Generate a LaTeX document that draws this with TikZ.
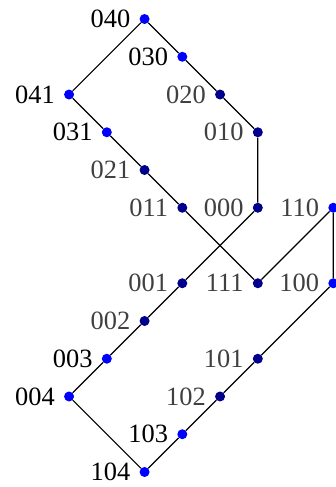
\documentclass[tikz,border=0pt]{standalone}
\usepackage{fontspec}
\setmainfont{Liberation Serif}
\begin{document}
\begin{tikzpicture}[x=1.131cm,y=1.131cm,
  every label/.style={font=\fontsize{22.5}{26}\selectfont,inner sep=2pt},
  label distance=5.5pt,
  pt/.style={circle,fill=blue,inner sep=0pt,minimum size=0.3cm},
  dimpt/.style={circle,fill=blue!55!black,inner sep=0pt,minimum size=0.3cm},
  dimlab/.style={label={[text=black!75]left:#1}}]
  \useasboundingbox (-1.83,0.504) rectangle (7.056,-12.398);
  % upper part
  \node[pt,label=left:040] (n040) at (2,0){};
  \node[pt,label=left:030] (n030) at (3,-1){};
  \node[dimpt,dimlab=020] (n020) at (4,-2){};
  \node[dimpt,dimlab=010] (n010) at (5,-3){};
  \node[pt,label=left:041] (n041) at (0,-2){};
  \node[pt,label=left:031] (n031) at (1,-3){};
  \node[dimpt,dimlab=021] (n021) at (2,-4){};
  \node[dimpt,dimlab=011] (n011) at (3,-5){};
  \node[dimpt,dimlab=000] (n000) at (5,-5){};
  \node[pt,dimlab=110] (n110) at (7,-5){};
  % lower part
  \node[dimpt,dimlab=001] (n001) at (3,-7){};
  \node[dimpt,dimlab=111] (n111) at (5,-7){};
  \node[pt,dimlab=100] (n100) at (7,-7){};
  \node[dimpt,dimlab=002] (n002) at (2,-8){};
  \node[pt,label=left:003] (n003) at (1,-9){};
  \node[pt,label=left:004] (n004) at (0,-10){};
  \node[dimpt,dimlab=101] (n101) at (5,-9){};
  \node[dimpt,dimlab=102] (n102) at (4,-10){};
  \node[pt,label=left:103] (n103) at (3,-11){};
  \node[pt,label=left:104] (n104) at (2,-12){};

  \draw[line width=1pt] (n041)--(n040)--(n030)--(n020)--(n010)--(n000)--(n001)--(n002)--(n003)--(n004)--(n104);
  \draw[line width=1pt] (n041)--(n031)--(n021)--(n011)--(n111)--(n110)--(n100)--(n101)--(n102)--(n103)--(n104);
\end{tikzpicture}
\end{document}
